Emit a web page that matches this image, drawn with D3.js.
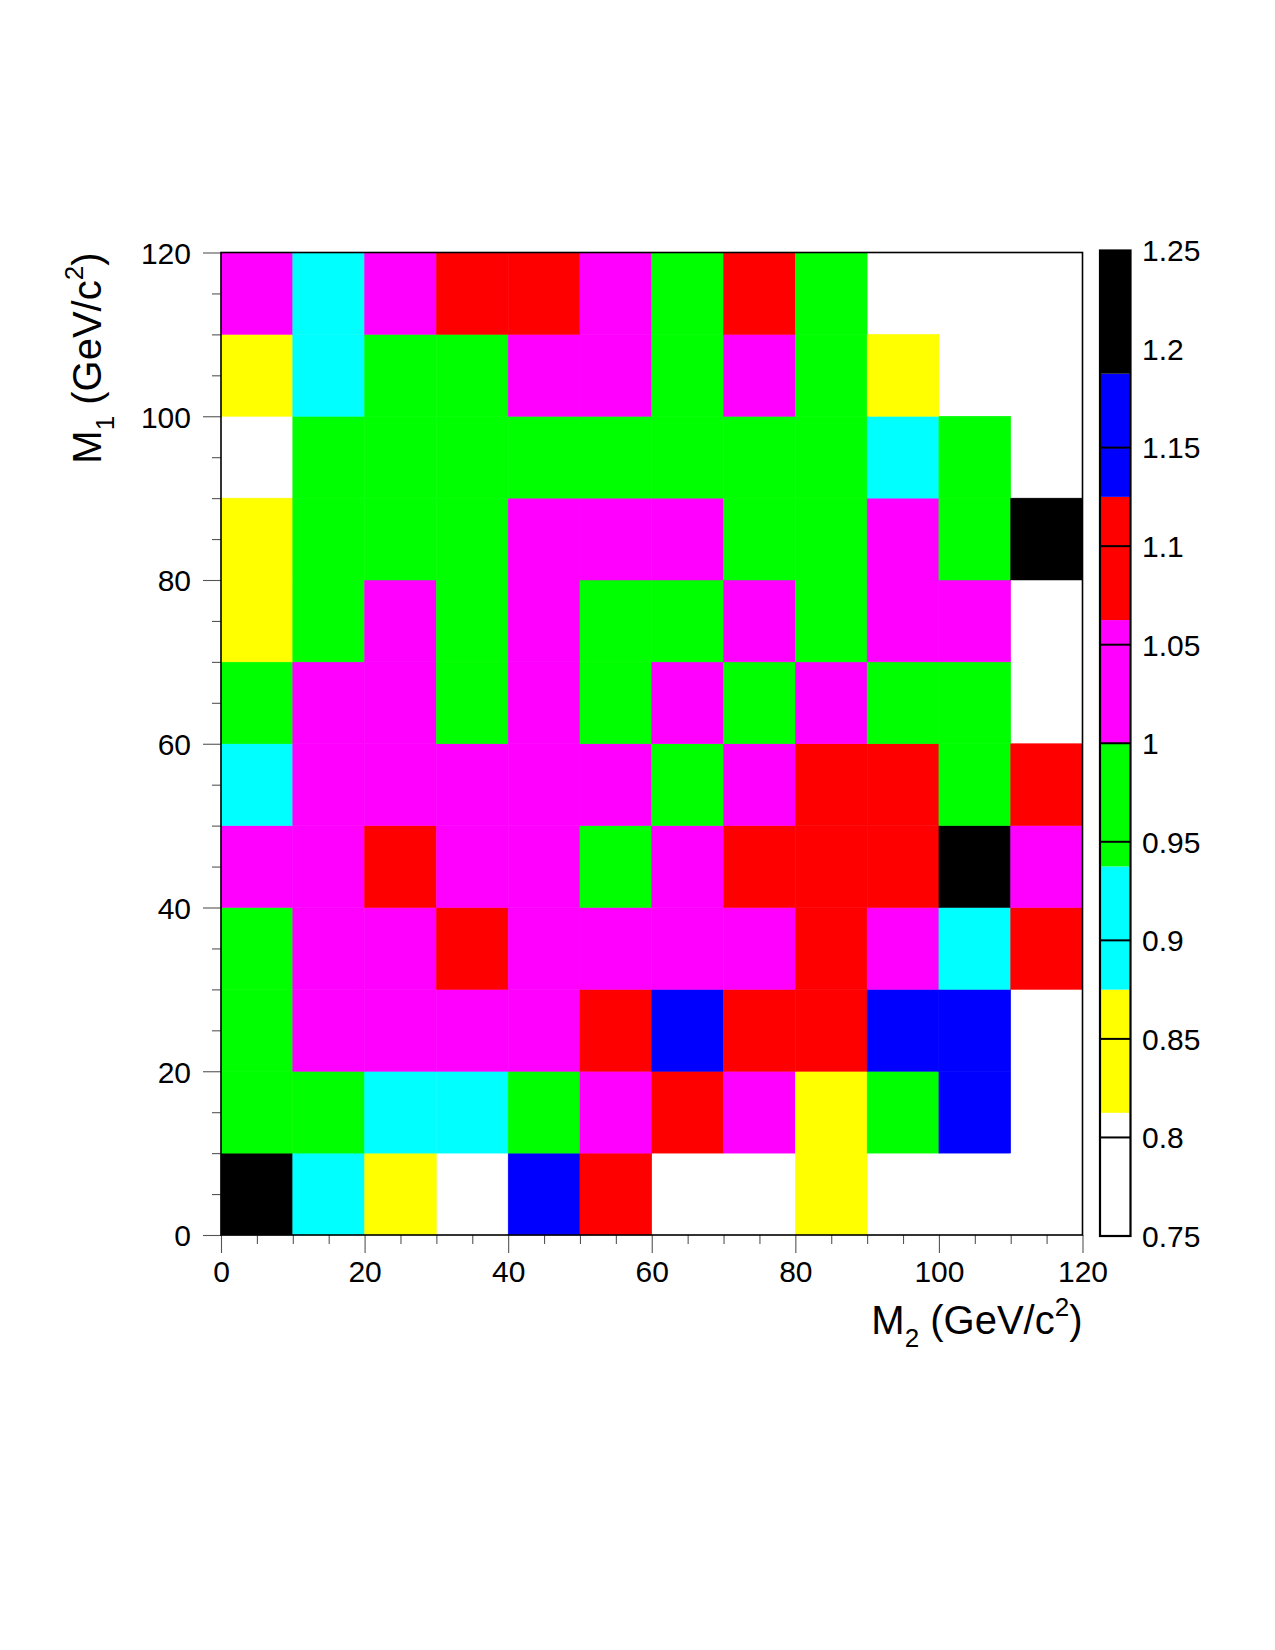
<!DOCTYPE html>
<html>
<head>
<meta charset="utf-8">
<script src="https://cdn.jsdelivr.net/npm/d3@7"></script>
<style>
  html, body { margin: 0; padding: 0; background: #fff; }
  svg { display: block; }
  text { font-family: "Liberation Sans", Arial, Helvetica, sans-serif; fill: #000; }
</style>
</head>
<body>
<svg id="chart" width="1275" height="1650"></svg>
<script>
// ---------- data ----------
// bin lower edges (GeV/c^2), 10 GeV wide
const m2Bins = [0, 10, 20, 30, 40, 50, 60, 70, 80, 90, 100, 110];
const m1Bins = [0, 10, 20, 30, 40, 50, 60, 70, 80, 90, 100, 110];
const binWidth = 10;
// ratio values, one row per M1 bin (from M1 = 0 upward), columns = M2 bins; null = empty bin
const row0  = [1.22, 0.91, 0.84, null, 1.15, 1.09, null, null, 0.84, null, null, null];
const row1  = [0.97, 0.97, 0.91, 0.91, 0.97, 1.03, 1.09, 1.03, 0.84, 0.97, 1.15, null];
const row2  = [0.97, 1.03, 1.03, 1.03, 1.03, 1.09, 1.15, 1.09, 1.09, 1.15, 1.15, null];
const row3  = [0.97, 1.03, 1.03, 1.09, 1.03, 1.03, 1.03, 1.03, 1.09, 1.03, 0.91, 1.09];
const row4  = [1.03, 1.03, 1.09, 1.03, 1.03, 0.97, 1.03, 1.09, 1.09, 1.09, 1.22, 1.03];
const row5  = [0.91, 1.03, 1.03, 1.03, 1.03, 1.03, 0.97, 1.03, 1.09, 1.09, 0.97, 1.09];
const row6  = [0.97, 1.03, 1.03, 0.97, 1.03, 0.97, 1.03, 0.97, 1.03, 0.97, 0.97, null];
const row7  = [0.84, 0.97, 1.03, 0.97, 1.03, 0.97, 0.97, 1.03, 0.97, 1.03, 1.03, null];
const row8  = [0.84, 0.97, 0.97, 0.97, 1.03, 1.03, 1.03, 0.97, 0.97, 1.03, 0.97, 1.22];
const row9  = [null, 0.97, 0.97, 0.97, 0.97, 0.97, 0.97, 0.97, 0.97, 0.91, 0.97, null];
const row10 = [0.84, 0.91, 0.97, 0.97, 1.03, 1.03, 0.97, 1.03, 0.97, 0.84, null, null];
const row11 = [1.03, 0.91, 1.03, 1.09, 1.09, 1.03, 0.97, 1.09, 0.97, null, null, null];
const ratioRows = [row0, row1, row2, row3, row4, row5, row6, row7, row8, row9, row10, row11];

// palette levels (contour levels) and colors
const zMin = 0.75, zMax = 1.25;
const levelEdges = [0.75, 0.8125, 0.875, 0.9375, 1.0, 1.0625, 1.125, 1.1875, 1.25];
const levelColors = ["#ffffff", "#ffff00", "#00ffff", "#00ff00", "#ff00ff", "#ff0000", "#0000ff", "#000000"];
const zTicks = [0.75, 0.8, 0.85, 0.9, 0.95, 1.0, 1.05, 1.1, 1.15, 1.2, 1.25];
const zTickLabels = ["0.75", "0.8", "0.85", "0.9", "0.95", "1", "1.05", "1.1", "1.15", "1.2", "1.25"];
const xMajorTicks = [0, 20, 40, 60, 80, 100, 120];
const yMajorTicks = [0, 20, 40, 60, 80, 100, 120];
const minorStep = 5;

// ---------- layout ----------
const frame = { left: 221, right: 1082.5, top: 252.5, bottom: 1235 };
const bar = { left: 1100, right: 1130.5, top: 250.5, bottom: 1236 };

const svg = d3.select("#chart");
const x = d3.scaleLinear().domain([0, 120]).range([frame.left, frame.right]);
const y = d3.scaleLinear().domain([0, 120]).range([frame.bottom, frame.top]);
const color = d3.scaleThreshold().domain(levelEdges.slice(1, -1)).range(levelColors);
const z = d3.scaleLinear().domain([zMin, zMax]).range([bar.bottom, bar.top]);

// ---------- cells ----------
const cells = [];
ratioRows.forEach((row, i) => row.forEach((v, j) => {
  if (v !== null) cells.push({ m1: m1Bins[i], m2: m2Bins[j], v });
}));
svg.append("g").selectAll("rect").data(cells).join("rect")
  .attr("x", d => x(d.m2))
  .attr("y", d => y(d.m1 + binWidth))
  .attr("width", d => x(d.m2 + binWidth) - x(d.m2))
  .attr("height", d => y(d.m1) - y(d.m1 + binWidth))
  .attr("fill", d => color(d.v))
  .attr("stroke", d => color(d.v))
  .attr("stroke-width", 0.5);

// ---------- axes ----------
const xMinor = d3.range(0, 120 + 0.01, minorStep).filter(v => !xMajorTicks.includes(v));
const yMinor = d3.range(0, 120 + 0.01, minorStep).filter(v => !yMajorTicks.includes(v));

const xAxisMajor = d3.axisBottom(x).tickValues(xMajorTicks).tickSize(18).tickPadding(8).tickFormat(d3.format("d"));
const xAxisMinor = d3.axisBottom(x).tickValues(xMinor).tickSize(9).tickFormat("");
const yAxisMajor = d3.axisLeft(y).tickValues(yMajorTicks).tickSize(18).tickPadding(12).tickFormat(d3.format("d"));
const yAxisMinor = d3.axisLeft(y).tickValues(yMinor).tickSize(9).tickFormat("");

function styleAxis(g) {
  g.select(".domain").remove();
  g.selectAll(".tick line").attr("stroke", "#555").attr("stroke-width", 1.1);
  g.selectAll(".tick text").style("font-size", "30px")
    .style("font-family", "'Liberation Sans', Arial, sans-serif").attr("fill", "#000");
}
svg.append("g").attr("transform", `translate(0,${frame.bottom})`).call(xAxisMinor).call(styleAxis);
svg.append("g").attr("transform", `translate(0,${frame.bottom})`).call(xAxisMajor).call(styleAxis)
  .selectAll(".tick text").attr("dy", "0.71em");
svg.append("g").attr("transform", `translate(${frame.left},0)`).call(yAxisMinor).call(styleAxis);
svg.append("g").attr("transform", `translate(${frame.left},0)`).call(yAxisMajor).call(styleAxis)
  .selectAll(".tick text").attr("dy", "0.36em");

// frame
svg.append("rect")
  .attr("x", frame.left).attr("y", frame.top)
  .attr("width", frame.right - frame.left).attr("height", frame.bottom - frame.top)
  .attr("fill", "none").attr("stroke", "#000").attr("stroke-width", 1.6);

// ---------- axis titles ----------
const xTitle = svg.append("text")
  .attr("x", frame.right).attr("y", 1334)
  .attr("text-anchor", "end")
  .style("font-size", "40px");
xTitle.append("tspan").text("M");
xTitle.append("tspan").attr("dy", 13).style("font-size", "26px").text("2");
xTitle.append("tspan").attr("dy", -13).text(" (GeV/c");
xTitle.append("tspan").attr("dy", -18).style("font-size", "26px").text("2");
xTitle.append("tspan").attr("dy", 18).text(")");

const yTitle = svg.append("text")
  .attr("transform", `translate(101,${frame.top}) rotate(-90)`)
  .attr("text-anchor", "end")
  .style("font-size", "40px");
yTitle.append("tspan").text("M");
yTitle.append("tspan").attr("dy", 13).style("font-size", "26px").text("1");
yTitle.append("tspan").attr("dy", -13).text(" (GeV/c");
yTitle.append("tspan").attr("dy", -18).style("font-size", "26px").text("2");
yTitle.append("tspan").attr("dy", 18).text(")");

// ---------- colour bar ----------
const bands = levelColors.map((c, i) => ({ lo: levelEdges[i], hi: levelEdges[i + 1], c }));
svg.append("g").selectAll("rect").data(bands).join("rect")
  .attr("x", bar.left).attr("width", bar.right - bar.left)
  .attr("y", d => z(d.hi)).attr("height", d => z(d.lo) - z(d.hi))
  .attr("fill", d => d.c);
svg.append("g").selectAll("line").data(zTicks.slice(1, -1)).join("line")
  .attr("x1", bar.left).attr("x2", bar.right)
  .attr("y1", d => z(d)).attr("y2", d => z(d))
  .attr("stroke", "#000").attr("stroke-width", 2);
svg.append("rect")
  .attr("x", bar.left).attr("y", bar.top)
  .attr("width", bar.right - bar.left).attr("height", bar.bottom - bar.top)
  .attr("fill", "none").attr("stroke", "#000").attr("stroke-width", 2.2);
svg.append("g").selectAll("text").data(zTicks).join("text")
  .attr("x", 1142).attr("y", d => z(d)).attr("dy", "0.36em")
  .style("font-size", "30px")
  .text((d, i) => zTickLabels[i]);
</script>
</body>
</html>
